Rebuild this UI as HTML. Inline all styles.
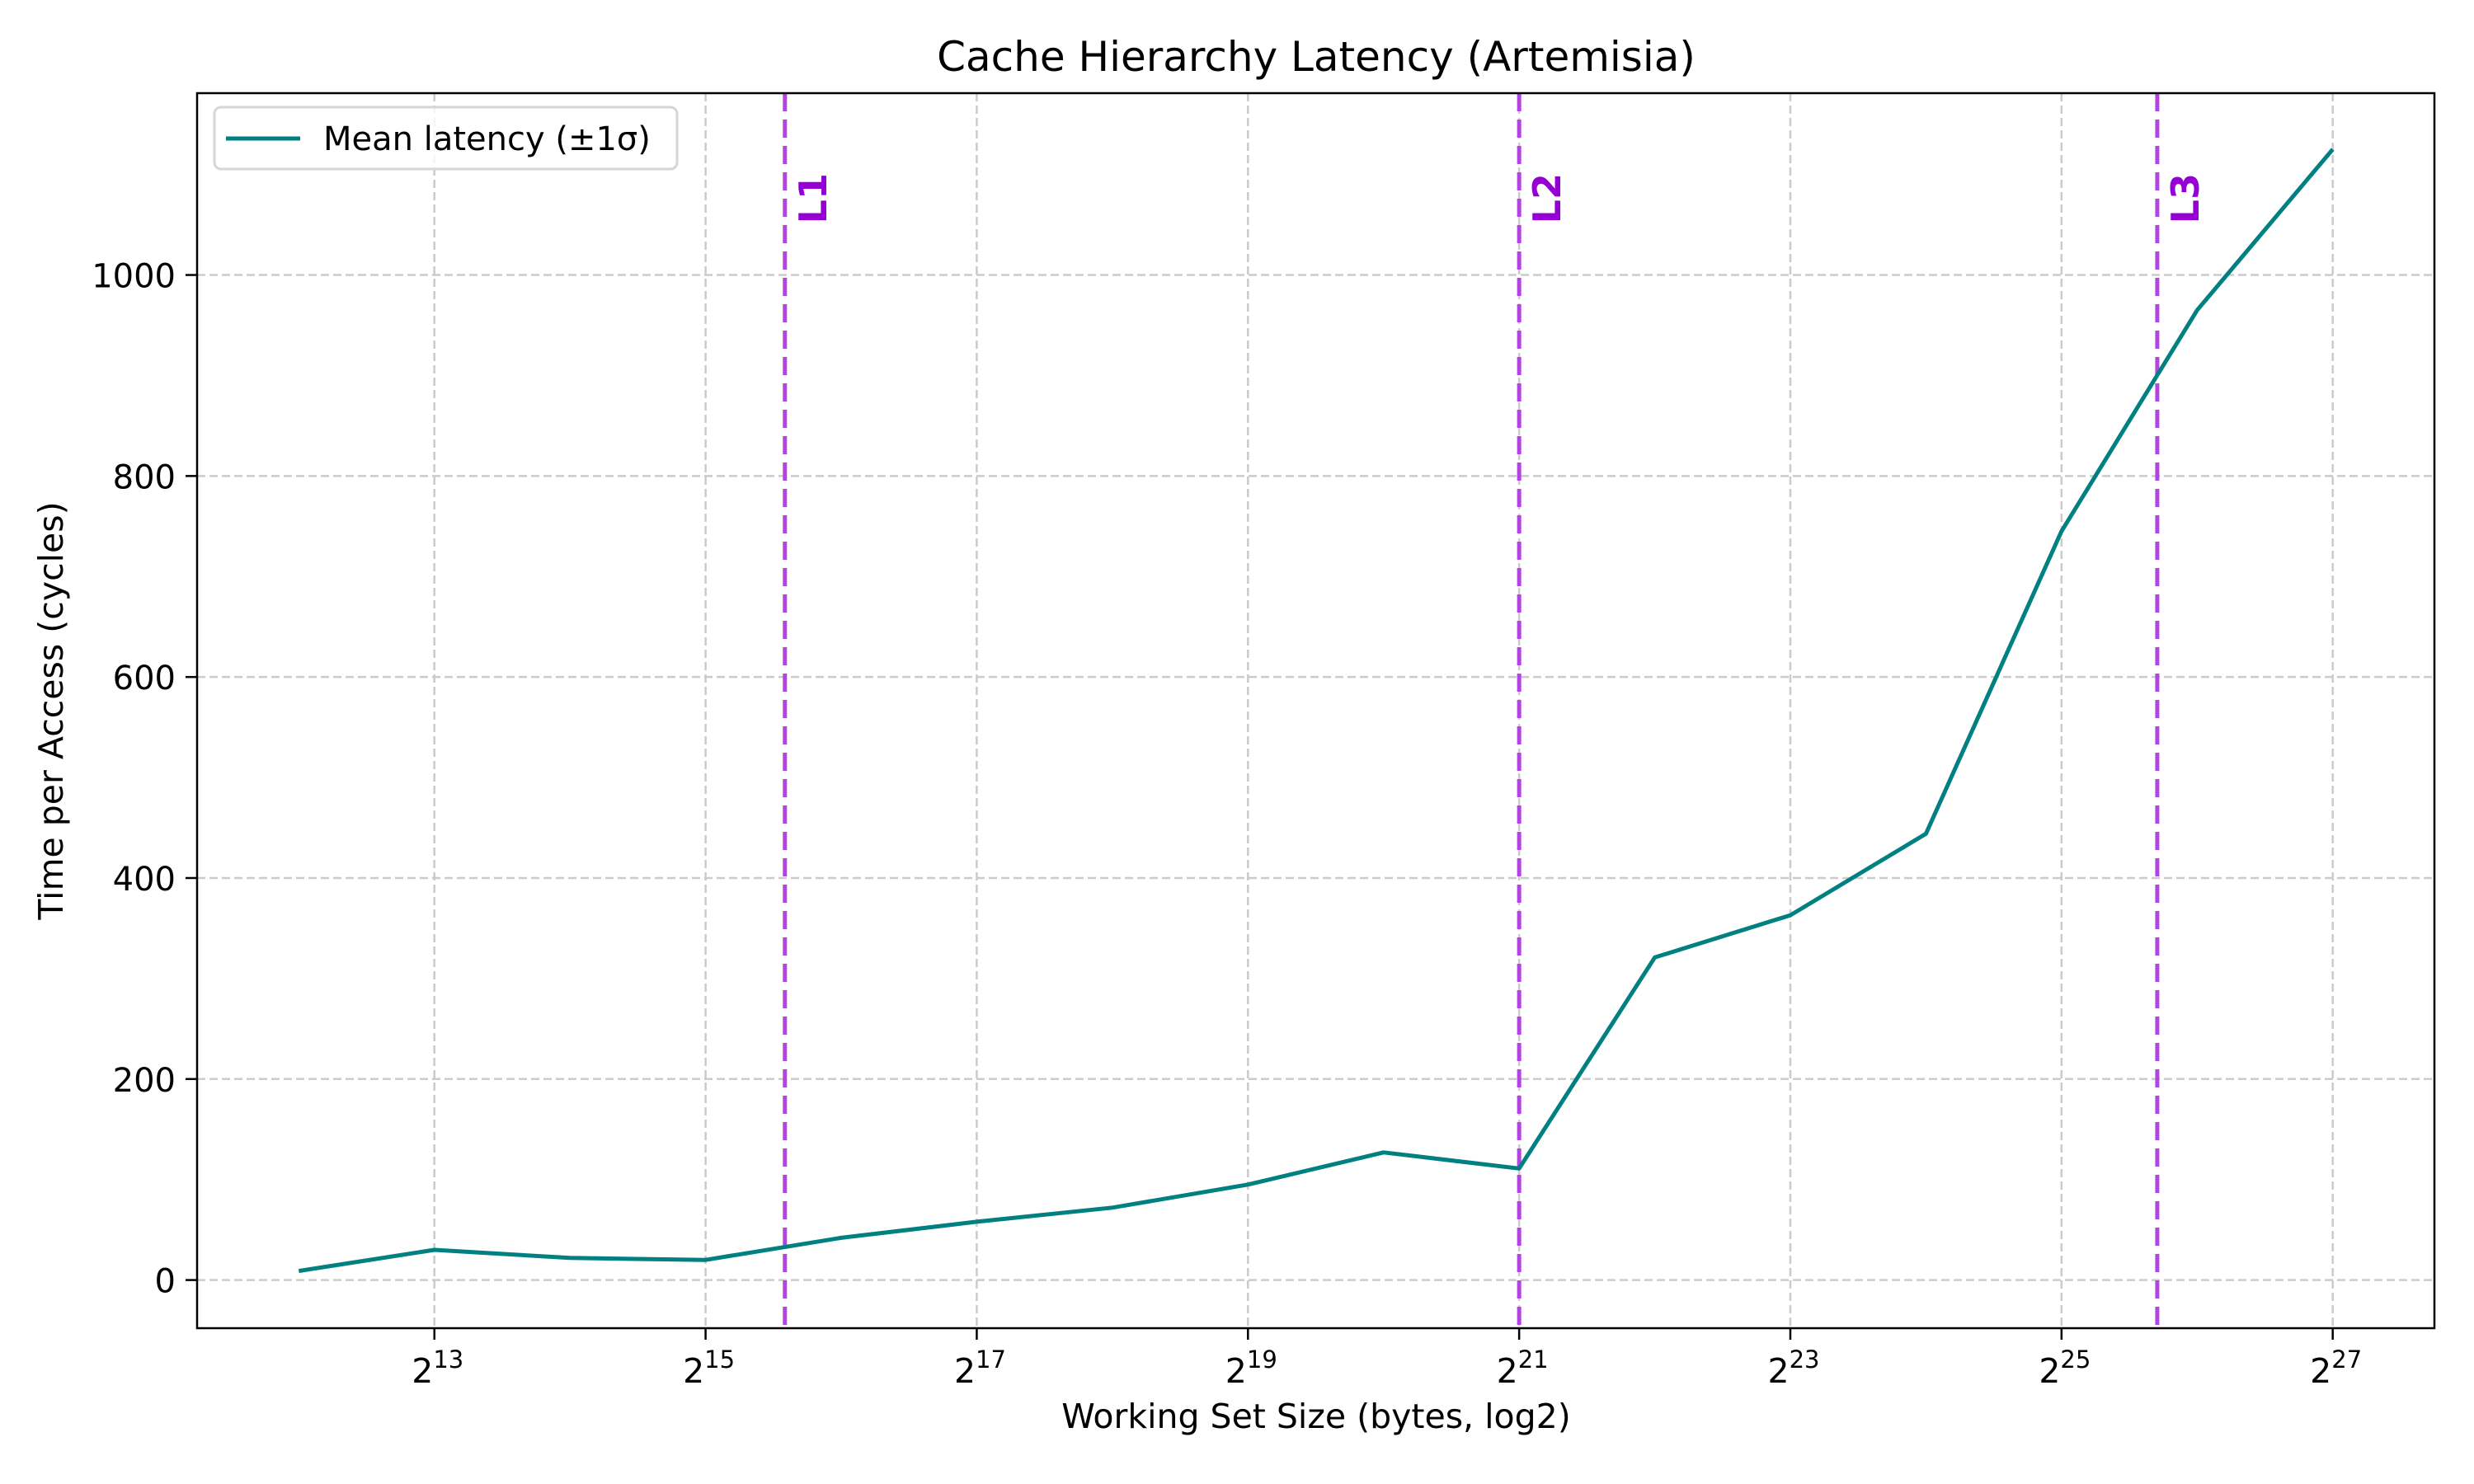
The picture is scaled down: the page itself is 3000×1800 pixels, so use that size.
<!DOCTYPE html>
<html><head><meta charset="utf-8"><style>
html,body{margin:0;padding:0;background:#fff;}
svg{display:block;font-family:"DejaVu Sans","Liberation Sans",sans-serif;}
</style></head><body>
<svg id="chart" width="3000" height="1800" viewBox="0 0 3000 1800" xmlns="http://www.w3.org/2000/svg">
<rect width="3000" height="1800" fill="#fff"/>
<g id="grid"></g>
<g id="marks"></g>
<g id="axes"></g>
<text x="1596" y="86" text-anchor="middle" font-size="50" fill="#000">Cache Hierarchy Latency (Artemisia)</text>
<text x="1596" y="1732" text-anchor="middle" font-size="41" fill="#000">Working Set Size (bytes, log2)</text>
<text transform="translate(76,862) rotate(-90)" text-anchor="middle" font-size="41" fill="#000">Time per Access (cycles)</text>
<g>
<rect x="260" y="130" width="561" height="75" rx="8" fill="#fff" fill-opacity="0.8" stroke="#d6d6d6" stroke-width="3"/>
<line x1="274" y1="168" x2="364" y2="168" stroke="#008080" stroke-width="5"/>
<text x="392" y="182" font-size="40" fill="#000">Mean latency (±1σ)</text>
</g>
</svg>
<script>
const log2Sizes = [12,13,14,15,16,17,18,19,20,21,22,23,24,25,26,27];
const latency = [9,30,22,20,42,58,72,95,127,111,321,363,444,745,965,1125];
const yTicks = [0,200,400,600,800,1000];
const xTicks = [13,15,17,19,21,23,25,27];
const cacheLabels = ["L1","L2","L3"];
const cacheLog2 = [15.585,21,25.706];

const L=239,R=2952,T=113,B=1611;
const xMin=11.25,xMax=27.75,yMin=-47.9,yMax=1180.9;
const sx=v=>L+(v-xMin)/(xMax-xMin)*(R-L);
const sy=v=>B-(v-yMin)/(yMax-yMin)*(B-T);
const NS="http://www.w3.org/2000/svg";
function mk(tag,attrs,parent){const e=document.createElementNS(NS,tag);for(const k in attrs)e.setAttribute(k,attrs[k]);parent.appendChild(e);return e;}
const grid=document.getElementById('grid'),marks=document.getElementById('marks'),axes=document.getElementById('axes');

yTicks.forEach(v=>{
  const g=mk('line',{x1:L,x2:R,y1:sy(v),y2:sy(v),stroke:'#cbcbcb','stroke-width':2.5,'stroke-dasharray':'10,5'},grid);
  
  
  const t=mk('line',{x1:L-14,x2:L,y1:sy(v),y2:sy(v),stroke:'#000','stroke-width':2.5},axes);
  
  
  const lb=mk('text',{x:L-26,y:sy(v)+15,'text-anchor':'end','font-size':40,fill:'#000'},axes);
  lb.textContent=String(v);
  
  
});
xTicks.forEach(v=>{
  const g=mk('line',{x1:sx(v),x2:sx(v),y1:T,y2:B,stroke:'#cbcbcb','stroke-width':2.5,'stroke-dasharray':'10,5'},grid);
  
  
  const t=mk('line',{x1:sx(v),x2:sx(v),y1:B,y2:B+14,stroke:'#000','stroke-width':2.5},axes);
  
  
  const lb=mk('text',{x:sx(v)+4,y:B+66,'text-anchor':'middle','font-size':41,fill:'#000'},axes);
  lb.innerHTML='2<tspan font-size="29" dy="-18">'+v+'</tspan>';
  
  
});
cacheLog2.forEach((v,i)=>{
  const l=mk('line',{x1:sx(v),x2:sx(v),y1:T,y2:B,stroke:'#b344e2','stroke-width':5,'stroke-dasharray':'22,10'},marks);
  
  
  const t=mk('text',{transform:'translate('+(sx(v)+50)+',210) rotate(-90)','text-anchor':'end','font-size':46,'font-weight':'bold',fill:'#9400d3'},marks);
  t.textContent=cacheLabels[i];
  
  
});
const pts=log2Sizes.map((v,i)=>sx(v).toFixed(1)+','+sy(latency[i]).toFixed(1)).join(' ');
const pl=mk('polyline',{points:pts,fill:'none',stroke:'#008080','stroke-width':5,'stroke-linejoin':'round'},marks);


const fr=mk('rect',{x:L,y:T,width:R-L,height:B-T,fill:'none',stroke:'#000','stroke-width':2.5},axes);


</script>
</body></html>
